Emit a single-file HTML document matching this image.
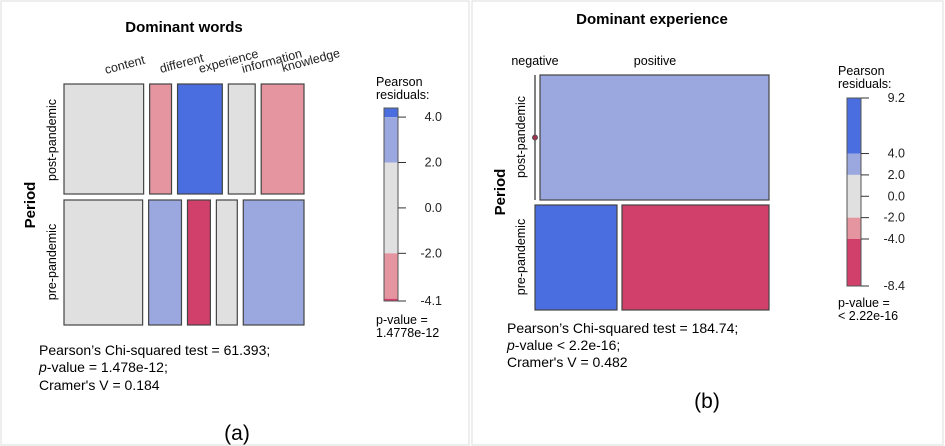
<!DOCTYPE html>
<html><head><meta charset="utf-8">
<style>
body{margin:0;background:#fff;}
svg{display:block;font-family:"Liberation Sans",Arial,sans-serif;}
</style></head>
<body>
<svg id="s" width="945" height="446" viewBox="0 0 945 446" xmlns="http://www.w3.org/2000/svg">
<rect x="1" y="1" width="468" height="444" fill="none" stroke="#ddd"/>
<rect x="472" y="1" width="471" height="444" fill="none" stroke="#ddd"/>
<g id="ga"></g>
<g id="gb"></g>
</svg>
<script>
// Panel A data
const aCols = ["content","different","experience","information","knowledge"];
const aRows = ["post-pandemic","pre-pandemic"];
const aRowTotals = [110,125];
const aCounts = [[80,22,45,27,43],[79,33,23,21,61]];
const aResid = [[0.5,-2.5,5,0.5,-3],[0,3,-4.1,0.5,3]];
const aLegTicks = ["4.0","2.0","0.0","-2.0","-4.1"];
// Panel B data
const bCols = ["negative","positive"];
const bRows = ["post-pandemic","pre-pandemic"];
const bRowTotals = [125,105];
const bCounts = [[0,229],[82,147]];
const bResid = [[-5,3],[9.2,-8.4]];
const bLegTicks = ["9.2","4.0","2.0","0.0","-2.0","-4.0","-8.4"];

const NS="http://www.w3.org/2000/svg";
function mk(parent,tag,attrs,text){const e=document.createElementNS(NS,tag);for(const k in attrs)e.setAttribute(k,attrs[k]);if(text!==undefined)e.textContent=text;parent.appendChild(e);return e;}
function col(r){if(r>4)return"#4a6ee0";if(r>2)return"#9ba8e0";if(r<-4)return"#d0406a";if(r<-2)return"#e495a0";return"#e0e0e0";}

function mosaic(g,x0,x1,y0,gap,rows,totals,counts,resid,pre){
  let y=y0;
  rows.forEach((rn,i)=>{
    const h=totals[i];
    const n=counts[i].length;
    const sum=counts[i].reduce((a,b)=>a+b,0);
    const avail=(x1-x0)-gap*(n-1);
    let x=x0;
    counts[i].forEach((c,j)=>{
      const w=avail*c/sum;
      if(c===0){
        const l=mk(g,"line",{x1:x,y1:y,x2:x,y2:y+h,stroke:"#555","stroke-width":1.5});
        
        
        const d=mk(g,"circle",{cx:x,cy:y+h/2,r:2.5,fill:"#a03050",stroke:"#555"});
        
        
        x+=gap;
      } else {
        const r=mk(g,"rect",{x:x,y:y,width:w,height:h,fill:col(resid[i][j]),stroke:"#444","stroke-width":1.2});
        
        
        x+=w+gap;
      }
    });
    y+=h+gap;
  });
}
function legend(g,x,y0,y1,vmax,vmin,ticks,pre){
  const sc=v=>y0+(vmax-v)/(vmax-vmin)*(y1-y0);
  const bands=[[vmax,4],[4,2],[2,-2],[-2,-4],[-4,vmin]];
  bands.forEach((b,i)=>{const top=sc(Math.min(b[0],vmax)),bot=sc(Math.max(b[1],vmin));if(bot<=top)return;
    const r=mk(g,"rect",{x:x,y:top,width:14,height:bot-top,fill:col((b[0]+b[1])/2)});
    
    });
  mk(g,"rect",{x:x,y:y0,width:14,height:y1-y0,fill:"none",stroke:"#555"});
  ticks.forEach(t=>{const v=parseFloat(t),yy=sc(v);
    mk(g,"line",{x1:x+14,y1:yy,x2:x+22,y2:yy,stroke:"#333"});
    const tx=mk(g,"text",{x:x+58,y:yy+4,"font-size":12.5,"text-anchor":"end",fill:"#222"},t);
    
    });
}
function txt(g,attrs,t,name){const e=mk(g,"text",attrs,t);return e;}

// Panel A
const ga=document.getElementById('ga');
txt(ga,{x:184,y:32,"font-size":15,"font-weight":"bold","text-anchor":"middle"},"Dominant words","title-a");
const aLab=[[106,74],[161,73],[200,73],[243,73],[283,72]];
aCols.forEach((c,i)=>txt(ga,{x:aLab[i][0],y:aLab[i][1],"font-size":12.5,transform:`rotate(-15 ${aLab[i][0]} ${aLab[i][1]})`,fill:"#222"},c,'col-label-'+c));
mosaic(ga,64,304,84,6,aRows,aRowTotals,aCounts,aResid,'a');
txt(ga,{x:35,y:205,"font-size":15,"font-weight":"bold","text-anchor":"middle",transform:"rotate(-90 35 205)"},"Period","y-axis-title-a");
txt(ga,{x:56,y:140,"font-size":12.5,"text-anchor":"middle",transform:"rotate(-90 56 140)"},"post-pandemic","row-label-post-a");
txt(ga,{x:56,y:262,"font-size":12.5,"text-anchor":"middle",transform:"rotate(-90 56 262)"},"pre-pandemic","row-label-pre-a");
txt(ga,{x:376,y:86,"font-size":12.5},"Pearson","legend-title-a");
txt(ga,{x:376,y:99,"font-size":12.5},"residuals:","legend-title-a2");
legend(ga,384,108,301,4.4,-4.1,aLegTicks,'a');
txt(ga,{x:376,y:324,"font-size":12.5},"p-value =","legend-pvalue-a");
txt(ga,{x:376,y:337,"font-size":12.5},"1.4778e-12","legend-pvalue-a2");
txt(ga,{x:39,y:355,"font-size":14},"Pearson’s Chi-squared test = 61.393;","stat-chisq-a");
const pa=txt(ga,{x:39,y:372,"font-size":14},"","stat-p-a");pa.innerHTML='<tspan font-style="italic">p</tspan>-value = 1.478e-12;';
txt(ga,{x:39,y:390,"font-size":14},"Cramer's V = 0.184","stat-v-a");
txt(ga,{x:237,y:440,"font-size":21,"text-anchor":"middle"},"(a)","caption-a");

// Panel B
const gb=document.getElementById('gb');
txt(gb,{x:652,y:24,"font-size":15,"font-weight":"bold","text-anchor":"middle"},"Dominant experience","title-b");
txt(gb,{x:535,y:65,"font-size":12.5,"text-anchor":"middle"},"negative","col-label-negative");
txt(gb,{x:655,y:65,"font-size":12.5,"text-anchor":"middle"},"positive","col-label-positive");
mosaic(gb,535,769,75,5,bRows,bRowTotals,bCounts,bResid,'b');
txt(gb,{x:505,y:192,"font-size":15,"font-weight":"bold","text-anchor":"middle",transform:"rotate(-90 505 192)"},"Period","y-axis-title-b");
txt(gb,{x:525,y:137,"font-size":12.5,"text-anchor":"middle",transform:"rotate(-90 525 137)"},"post-pandemic","row-label-post-b");
txt(gb,{x:525,y:257,"font-size":12.5,"text-anchor":"middle",transform:"rotate(-90 525 257)"},"pre-pandemic","row-label-pre-b");
txt(gb,{x:838,y:75,"font-size":12.5},"Pearson","legend-title-b");
txt(gb,{x:838,y:88,"font-size":12.5},"residuals:","legend-title-b2");
legend(gb,847,98,286,9.2,-8.4,bLegTicks,'b');
txt(gb,{x:838,y:307,"font-size":12.5},"p-value =","legend-pvalue-b");
txt(gb,{x:838,y:320,"font-size":12.5},"< 2.22e-16","legend-pvalue-b2");
txt(gb,{x:507,y:333,"font-size":14},"Pearson’s Chi-squared test = 184.74;","stat-chisq-b");
const pb=txt(gb,{x:507,y:350,"font-size":14},"","stat-p-b");pb.innerHTML='<tspan font-style="italic">p</tspan>-value &lt; 2.2e-16;';
txt(gb,{x:507,y:367,"font-size":14},"Cramer's V = 0.482","stat-v-b");
txt(gb,{x:707,y:408,"font-size":21,"text-anchor":"middle"},"(b)","caption-b");
</script>
</body></html>
